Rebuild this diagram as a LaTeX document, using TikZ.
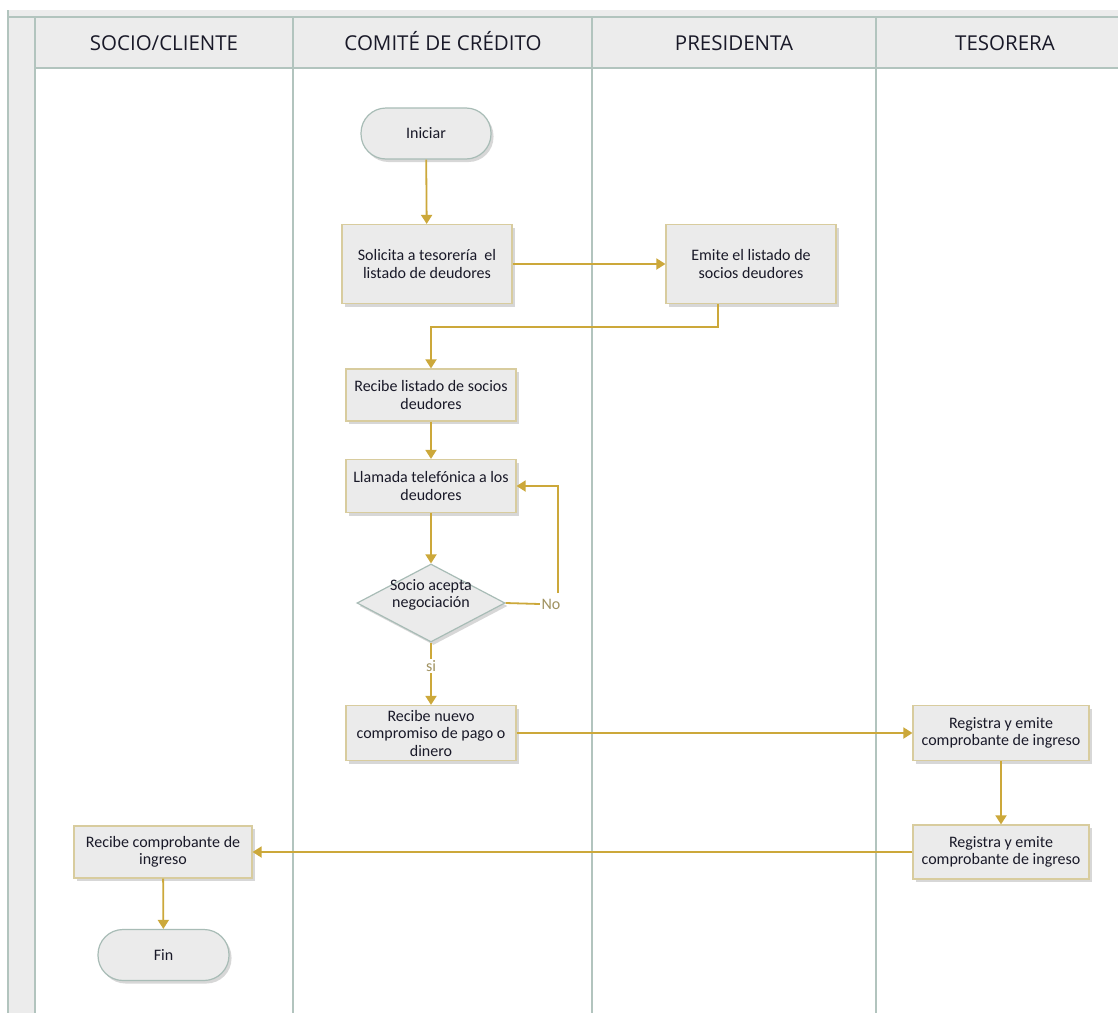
\documentclass[tikz,border=0pt]{standalone}
\usepackage{fontspec}
\setmainfont{Carlito}
\newfontfamily\headfont{Open Sans}
\usetikzlibrary{shapes.geometric,arrows.meta,shadows}

\definecolor{laneline}{RGB}{178,196,190}
\definecolor{band}{RGB}{236,236,236}
\definecolor{boxfill}{RGB}{235,235,235}
\definecolor{boxline}{RGB}{216,204,158}
\definecolor{pillline}{RGB}{168,188,182}
\definecolor{flowc}{RGB}{204,168,58}
\definecolor{ink}{RGB}{25,25,40}
\definecolor{lbl}{RGB}{160,146,96}

\begin{document}
\begin{tikzpicture}[x=1pt,y=-1pt,
  lanerule/.style={draw=laneline, line width=1.5pt},
  headtext/.style={anchor=base, text=ink, font=\headfont\fontsize{20.5}{24}\selectfont, inner sep=0pt},
  softshadow/.style={drop shadow={shadow xshift=2.5pt, shadow yshift=-3pt, opacity=0.22, fill=black!70}},
  procbox/.style={rectangle, draw=boxline, line width=1.2pt, fill=boxfill, text=ink,
    font=\fontsize{16}{17.5}\selectfont, align=center, inner sep=0pt, softshadow},
  terminal/.style={rectangle, rounded corners=25pt, draw=pillline, line width=1.2pt, fill=boxfill,
    text=ink, font=\fontsize{16}{17.5}\selectfont, minimum width=130pt, minimum height=51pt,
    inner sep=0pt, softshadow},
  decision/.style={diamond, draw=pillline, line width=1.2pt, fill=boxfill, minimum width=148pt,
    minimum height=78pt, inner sep=0pt, softshadow},
  plaintext/.style={text=ink, font=\fontsize{16}{17.5}\selectfont, align=center, inner sep=0pt},
  lbltext/.style={text=lbl, font=\fontsize{16}{17.5}\selectfont, inner sep=1.5pt},
  flow/.style={color=flowc, line width=1.8pt, -{Triangle[width=11pt,length=9pt]}},
  plainflow/.style={color=flowc, line width=1.8pt}
]
\useasboundingbox (0,0) rectangle (1118,1012);
\clip (0,0) rectangle (1118,1012);

% pool bands: top strip, lane headers and the left label band
\fill[white] (0,0) rectangle (1118,1012);
\fill[band] (8,10) rectangle (1140,68);
\fill[band] (8,10) rectangle (35,1030);
\draw[lanerule] (8,10) -- (8,1030);
\draw[lanerule] (8,17) -- (1140,17);
\draw[lanerule] (35,68) -- (1140,68);
\foreach \lx in {35,293,592,876} {
  \draw[lanerule] (\lx,17) -- (\lx,1030);
}

% lane titles
\node[headtext] (hsocio) at (164,50) {SOCIO/CLIENTE};
\node[headtext] (hcomite) at (443,50) {COMITÉ DE CRÉDITO};
\node[headtext] (hpres) at (734,50) {PRESIDENTA};
\node[headtext] (htes) at (1005,50) {TESORERA};

% process steps
\node[terminal] (start) at (426,133.5) {Iniciar};
\node[procbox, minimum width=170pt, minimum height=79pt] (ask) at (427,264)
  {Solicita a tesorería~ el\\listado de deudores};
\node[procbox, minimum width=170pt, minimum height=79pt] (emit) at (751,264)
  {Emite el listado de\\socios deudores};
\node[procbox, minimum width=170pt, minimum height=52pt] (recv) at (431,395)
  {Recibe listado de socios\\deudores};
\node[procbox, minimum width=170pt, minimum height=53pt] (call) at (431,486)
  {Llamada telefónica a los\\deudores};
\node[decision] (dec) at (431,603) {};
\node[plaintext] (dectext) at (431,595) {Socio acepta\\negociación};
\node[procbox, minimum width=170pt, minimum height=55pt] (nuevo) at (431,733)
  {Recibe nuevo\\compromiso de pago o\\dinero};
\node[procbox, minimum width=176pt, minimum height=55pt] (reg1) at (1001,733)
  {Registra y emite\\comprobante de ingreso};
\node[procbox, minimum width=176pt, minimum height=54pt] (reg2) at (1001,852)
  {Registra y emite\\comprobante de ingreso};
\node[procbox, minimum width=178pt, minimum height=52pt] (rcpt) at (163,852)
  {Recibe comprobante de\\ingreso};
\node[terminal, minimum width=131pt] (fin) at (163.5,955) {Fin};

% connectors
\draw[flow] (start) -- (ask);
\draw[flow] (ask.east) -- (emit.west);
\coordinate (back) at (718,327);
\draw[flow] (back |- emit.south) -- (back) -| (recv.north);
\draw[flow] (recv) -- (call);
\draw[flow] (call) -- (dec);
\node[lbltext] (no) at (551,604) {No};
\draw[plainflow] (dec.east) -- (no.west);
\coordinate (loop) at (558,593);
\draw[flow] (loop) |- (call.east);
\draw[flow] (dec.south) -- node[lbltext, fill=white, pos=0.38] (si) {si} (nuevo.north);
\draw[flow] (nuevo) -- (reg1);
\draw[flow] (reg1) -- (reg2);
\draw[flow] (reg2) -- (rcpt);
\draw[flow] (rcpt) -- (fin);
\end{tikzpicture}
\end{document}
